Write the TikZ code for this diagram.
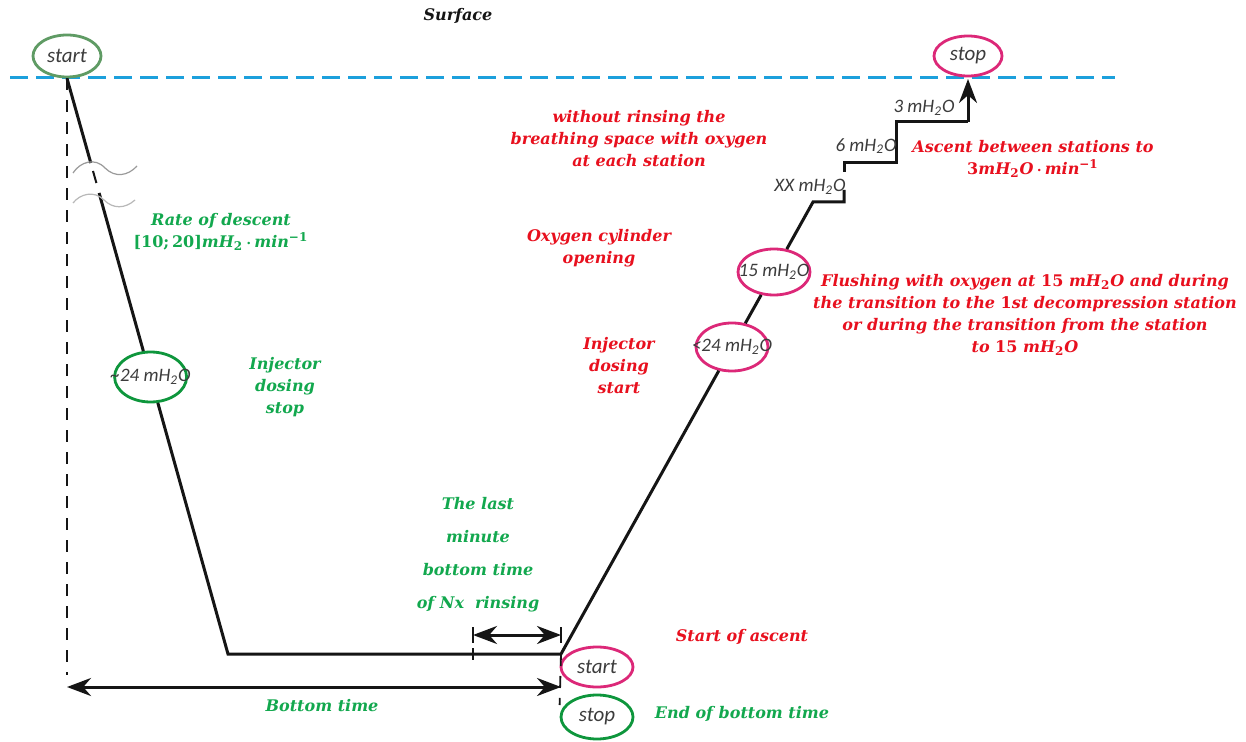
\documentclass[tikz,border=0pt]{standalone}
\usepackage{fontspec}
\usepackage{bm}
\usetikzlibrary{arrows.meta,shapes.geometric}
\newfontfamily\ringfont{Carlito}
\newfontfamily\notefont{DejaVu Serif}
\definecolor{ink}{HTML}{151515}
\definecolor{surfaceblue}{HTML}{1CA0DC}
\definecolor{notegreen}{HTML}{12A84E}
\definecolor{notered}{HTML}{E8101E}
\definecolor{ringgreen}{HTML}{5F9B64}
\definecolor{doseggreen}{HTML}{0E963C}
\definecolor{ringpink}{HTML}{DC2878}
\definecolor{ringtext}{HTML}{3C3C3C}
\definecolor{breakgrey}{HTML}{9A9A9A}
\newcommand{\mhto}{mH\textsubscript{2}O}
\newcommand{\inring}[1]{\makebox[0pt]{#1}}
\tikzset{
  profile/.style={draw=ink,line width=1.5pt},
  guide/.style={draw=ink,line width=0.9pt,dash pattern=on 6pt off 5pt},
  span/.style={{Stealth[length=12pt,width=9pt]}-{Stealth[length=12pt,width=9pt]},draw=ink,line width=1.5pt},
  tick/.style={draw=ink,line width=0.9pt},
  ring/.style={ellipse,draw=#1,fill=white,line width=1.4pt,minimum width=34pt,minimum height=21pt,
    inner sep=0pt,font=\ringfont\itshape\fontsize{10.5}{12}\selectfont,text=ringtext},
  depth/.style={font=\ringfont\itshape\fontsize{9.5}{11}\selectfont,text=ringtext,inner sep=1pt},
  note/.style={font=\notefont\bfseries\itshape\fontsize{8}{11}\selectfont,align=center,inner sep=1pt},
  greennote/.style={note,text=notegreen},
  rednote/.style={note,text=notered}
}
\begin{document}
\begin{tikzpicture}[x=0.5pt,y=-0.5pt]
  \useasboundingbox (0,0) rectangle (1246,742);
  \fill[white] (0,0) rectangle (1246,742);
  \clip (0,0) rectangle (1246,742);

  \node[note,text=ink] (surface) at (458,16) {Surface};
  \draw[draw=surfaceblue,line width=1.5pt,dash pattern=on 9pt off 4pt] (10,78) -- (1115,78);

  % corners of the dive profile
  \coordinate (breakA) at (90.8,163);
  \coordinate (breakB) at (93,171);
  \coordinate (breakC) at (96.4,183);
  \coordinate (breakD) at (99.1,193);
  \coordinate (bottomL) at (228,654);
  \coordinate (bottomR) at (561,654);
  \coordinate (xxL) at (813,202);
  \coordinate (xxR) at (844,202);
  \coordinate (xxtop) at (844,190);
  \coordinate (sixlow) at (844,172);
  \coordinate (sixL) at (844,163);
  \coordinate (sixR) at (896,163);
  \coordinate (threeL) at (896,122);
  \coordinate (threeR) at (968,122);
  \coordinate (surfaceR) at (968,79);
  \coordinate (leftfoot) at (67,675);
  \coordinate (timeL) at (67,687);
  \coordinate (timeR) at (561,687);
  \coordinate (lastL) at (473,635);
  \coordinate (lastR) at (561,635);

  \node[ring=ringgreen] (topstart) at (67,56) {\inring{start}};
  \node[ring=ringpink,minimum height=20pt] (topstop) at (968,56) {\inring{stop}};
  \node[ring=doseggreen,minimum width=36pt,minimum height=25pt,font=\ringfont\itshape\fontsize{9.5}{11}\selectfont]
    (descdose) at (150.6,377) {\inring{\textasciitilde24 \mhto}};
  \node[ring=ringpink,minimum width=36pt,minimum height=24pt,font=\ringfont\itshape\fontsize{9.5}{11}\selectfont]
    (ascdose) at (732,347) {\inring{<24 \mhto}};
  \node[ring=ringpink,minimum width=36pt,minimum height=23pt,font=\ringfont\itshape\fontsize{9.5}{11}\selectfont]
    (flush) at (774,272) {\inring{15 \mhto}};
  \node[ring=ringpink,minimum width=36pt,minimum height=20pt] (botstart) at (597,667) {\inring{start}};
  \node[ring=doseggreen,minimum width=36pt,minimum height=22pt] (botstop) at (597,717) {\inring{stop}};

  \draw[guide] (topstart.south) -- (leftfoot);
  \draw[guide] (bottomR) -- (botstart.west |- 0,705);

  \draw[profile] (topstart.south) -- (breakA);
  \draw[profile,line width=1pt] (breakB) -- (breakC);
  \draw[profile] (breakD) -- (descdose) -- (bottomL) -- (bottomR) -- (ascdose) -- (flush) -- (xxL) -- (xxR) -- (xxtop);
  \draw[profile] (sixlow) -- (sixL) -- (sixR) -- (threeL) -- (threeR);
  \draw[profile,-{Stealth[length=12pt,width=9pt]}] (threeR) -- (surfaceR);

  \draw[breakgrey,line width=0.6pt] (73,173) .. controls (80,162) and (95,157) .. (105,168)
    .. controls (115,178) and (128,176) .. (137,166);
  \draw[breakgrey!70,line width=0.6pt] (73,203) .. controls (80,194) and (94,190) .. (104,200)
    .. controls (113,209) and (125,209) .. (135,200);

  \draw[span] (timeL) -- (timeR);
  \draw[span] (lastL) -- (lastR);
  \draw[tick] (473,627) -- (473,643);
  \draw[tick] (561,627) -- (561,643);
  \draw[tick] (473,648) -- (473,660);

  \node[depth] (threelabel) at (924,108) {3 \mhto};
  \node[depth] (sixlabel) at (866,146) {6 \mhto};
  \node[depth] (xxlabel) at (810,187) {XX \mhto};

  \node[greennote] (rate) at (221,232)
    {Rate of descent\\\textup{[10;\,20]}mH\textsubscript{\textup{2}}$\,\bm{\cdot}\,$min\textsuperscript{\textup{\textminus1}}};
  \node[greennote] (injstop) at (285,387) {Injector\\dosing\\stop};
  \node[rednote] (rinse) at (639,139) {without rinsing the\\breathing space with oxygen\\at each station};
  \node[rednote] (cylinder) at (599,248) {Oxygen cylinder\\opening};
  \node[rednote] (injstart) at (619,366) {Injector\\dosing\\start};
  \node[rednote] (ascrate) at (1033,159)
    {Ascent between stations to\\\textup{3}mH\textsubscript{\textup{2}}O$\,\bm{\cdot}\,$min\textsuperscript{\textup{\textminus1}}};
  \node[rednote] (flushnote) at (1025,315)
    {Flushing with oxygen at \textup{15} mH\textsubscript{\textup{2}}O and during\\
     the transition to the \textup{1}st decompression station\\
     or during the transition from the station\\
     to \textup{15} mH\textsubscript{\textup{2}}O};
  \node[greennote,font=\notefont\bfseries\itshape\fontsize{8}{16.5}\selectfont] (lastmin) at (478,555)
    {The last\\minute\\bottom time\\of Nx\ \ rinsing};
  \node[rednote] (ascstart) at (742,637) {Start of ascent};
  \node[greennote] (botend) at (742,714) {End of bottom time};
  \node[greennote] (bottime) at (322,706) {Bottom time};
\end{tikzpicture}
\end{document}
